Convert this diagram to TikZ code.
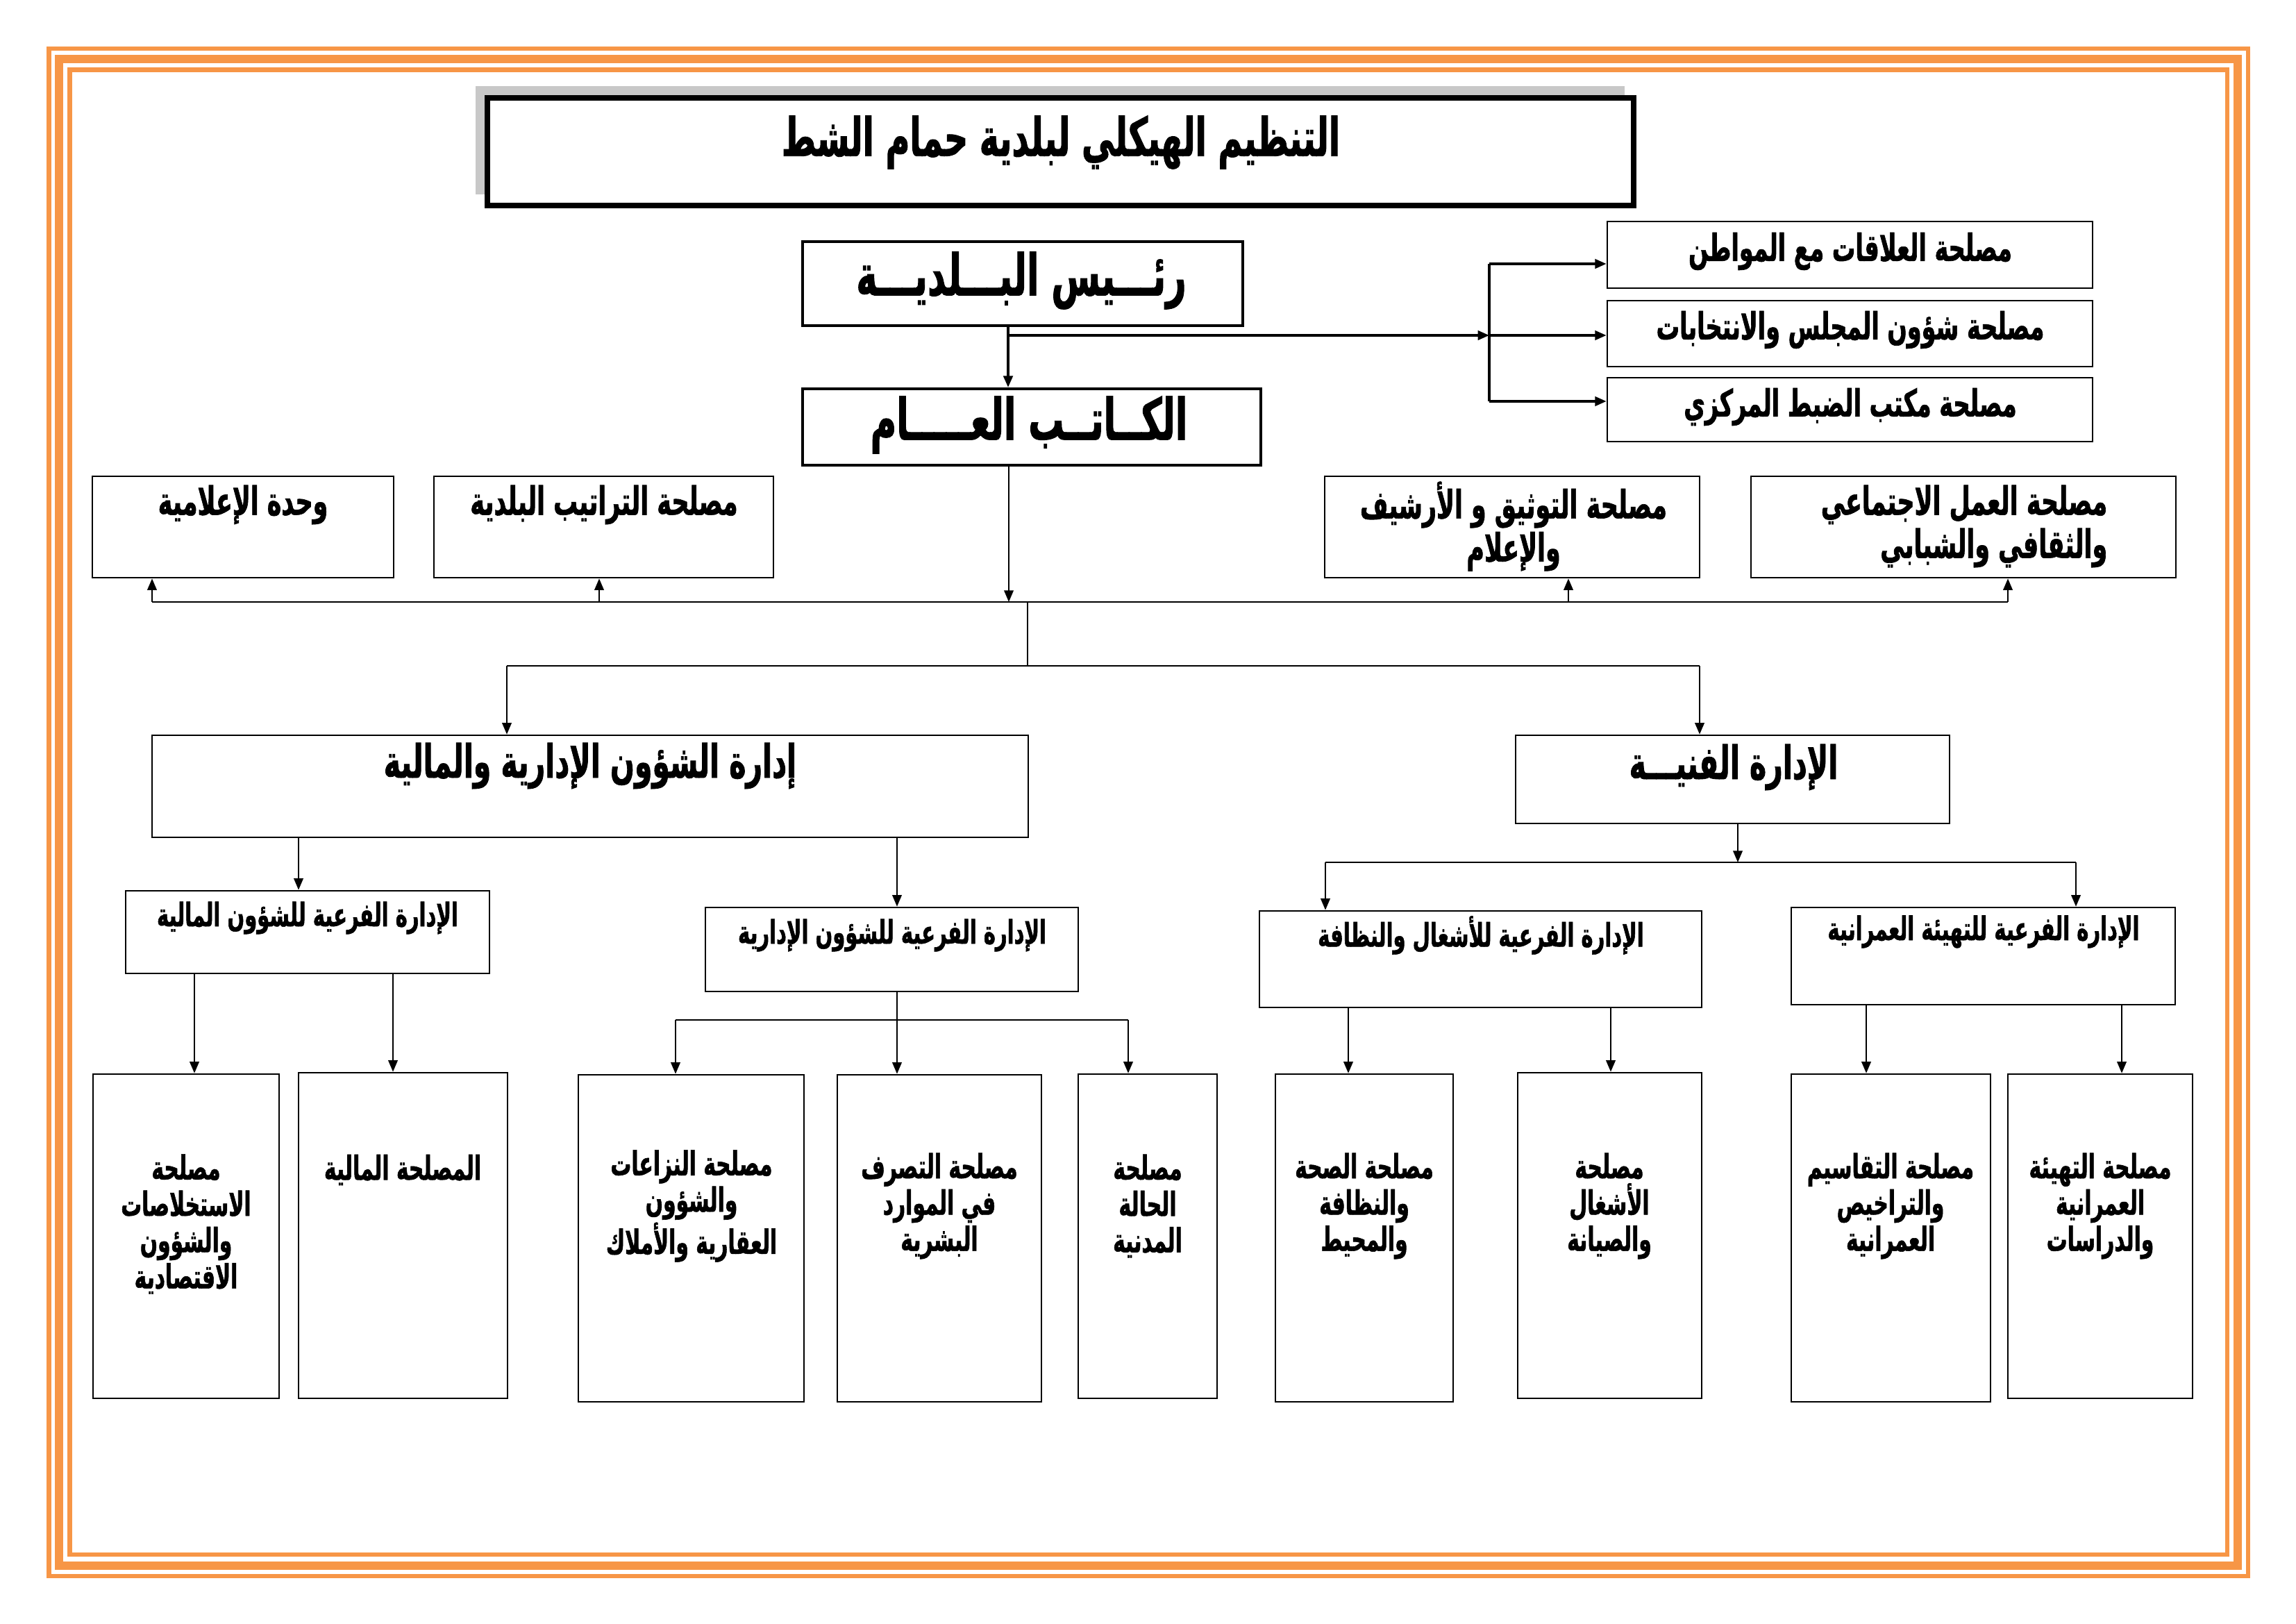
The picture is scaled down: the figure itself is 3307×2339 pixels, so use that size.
\documentclass[tikz,border=0pt]{standalone}
\usepackage{fontspec}
\usetikzlibrary{arrows.meta,fit}
\TeXXeTstate=1
\newfontfamily\arabicfont[Script=Arabic,FakeStretch=0.62,FakeBold=1.2]{DejaVu Sans}
\newcommand{\AR}[1]{{\arabicfont\bfseries\beginR #1\endR}}
\definecolor{frameorange}{HTML}{F79646}
\definecolor{shadowgray}{HTML}{C8C8C8}
\tikzset{
  box/.style={draw=black, line width=0.65pt, inner sep=0pt, fill=white},
  bigbox/.style={box, line width=1.05pt},
  titlebox/.style={box, line width=2.2pt},
  shadebox/.style={fill=shadowgray, inner sep=0pt},
  lbl/.style={align=center, inner sep=0pt},
  conn/.style={line width=0.6pt},
  thickconn/.style={line width=0.9pt},
  arr/.style={-{Triangle[length=4.2pt,width=3.4pt]}},
  fr/.style={draw=frameorange}
}
\begin{document}
\begin{tikzpicture}[x=0.2545pt,y=-0.2545pt]
\useasboundingbox (0,0) rectangle (3307,2339);
% frame
\draw[fr, line width=1.55pt] (70.5,70) rectangle (3238,2270);
\draw[fr, line width=3.05pt] (85,85) rectangle (3223,2255);
\draw[fr, line width=1.55pt] (100.5,100.5) rectangle (3208,2239);
% title
\node[shadebox, fit={(685,124) (2340,280)}] (tshadow) {};
\node[titlebox, fit={(702,141) (2353,296)}] (title) {};
\node[lbl, font=\fontsize{19.5}{24}\selectfont] (ttitle) at (1528,205) {\AR{التنظيم الهيكلي لبلدية حمام الشط}};
% president and secretary
\node[bigbox, fit={(1156,348) (1790,469)}] (pres) {};
\node[lbl, font=\fontsize{21}{24}\selectfont] (tpres) at (1471,404) {\AR{رئـــيس البـــلديـــة}};
\node[bigbox, fit={(1156,560) (1816,670)}] (sec) {};
\node[lbl, font=\fontsize{21}{24}\selectfont] (tsec) at (1482,612) {\AR{الكــاتــب العـــــام}};
% right services
\tikzset{rtxt/.style={lbl, font=\fontsize{13.7}{16}\selectfont}}
\node[box, fit={(2315,319) (3014,415)}] (r1) {};
\node[rtxt] (tr1) at (2665,362) {\AR{مصلحة العلاقات مع المواطن}};
\node[box, fit={(2315,433) (3014,528)}] (r2) {};
\node[rtxt] (tr2) at (2665,475) {\AR{مصلحة شؤون المجلس والانتخابات}};
\node[box, fit={(2315,544) (3014,636)}] (r3) {};
\node[rtxt] (tr3) at (2665,586) {\AR{مصلحة مكتب الضبط المركزي}};
% middle row
\tikzset{mtxt/.style={lbl, font=\fontsize{14.3}{15.8}\selectfont}}
\node[box, fit={(133,686) (567,832)}] (m1) {};
\node[mtxt] (tm1) at (350,727) {\AR{وحدة الإعلامية}};
\node[box, fit={(625,686) (1114,832)}] (m2) {};
\node[mtxt] (tm2) at (870,727) {\AR{مصلحة التراتيب البلدية}};
\node[box, fit={(1908,686) (2448,832)}] (m3) {};
\node[mtxt] (tm3) at (2180,758) {\AR{مصلحة التوثيق و الأرشيف}\\\AR{والإعلام}};
\node[box, fit={(2522,686) (3134,832)}] (m4) {};
\node[mtxt, align=right, anchor=east] (tm4) at (3036,758) {\AR{مصلحة العمل الاجتماعي}\\\AR{والثقافي والشبابي}};
% departments
\node[box, fit={(219,1059) (1481,1206)}] (d1) {};
\node[lbl, font=\fontsize{16.8}{19}\selectfont] (td1) at (850,1103) {\AR{إدارة الشؤون الإدارية والمالية}};
\node[box, fit={(2183,1059) (2808,1186)}] (d2) {};
\node[lbl, font=\fontsize{16.8}{19}\selectfont] (td2) at (2497,1105) {\AR{الإدارة الفنيـــة}};
% sub-departments
\tikzset{stxt/.style={lbl, font=\fontsize{11.9}{14}\selectfont}}
\node[box, fit={(181,1283) (705,1402)}] (s1) {};
\node[stxt] (ts1) at (443,1322) {\AR{الإدارة الفرعية للشؤون المالية}};
\node[box, fit={(1016,1307) (1553,1428)}] (s2) {};
\node[stxt] (ts2) at (1285,1347) {\AR{الإدارة الفرعية للشؤون الإدارية}};
\node[box, fit={(1814,1312) (2451,1451)}] (s3) {};
\node[stxt] (ts3) at (2133,1347) {\AR{الإدارة الفرعية للأشغال والنظافة}};
\node[box, fit={(2580,1307) (3133,1447)}] (s4) {};
\node[stxt] (ts4) at (2857,1342) {\AR{الإدارة الفرعية للتهيئة العمرانية}};
% bottom services
\tikzset{btxt/.style={lbl, font=\fontsize{12.2}{13.3}\selectfont}}
\node[box, fit={(134,1547) (402,2014)}] (b1) {};
\node[btxt] (tb1) at (268,1763) {\AR{مصلحة}\\\AR{الاستخلاصات}\\\AR{والشؤون}\\\AR{الاقتصادية}};
\node[box, fit={(430,1545) (731,2014)}] (b2) {};
\node[btxt] (tb2) at (580,1685) {\AR{المصلحة المالية}};
\node[box, fit={(833,1548) (1158,2019)}] (b3) {};
\node[btxt] (tb3) at (996,1737) {\AR{مصلحة النزاعات}\\\AR{والشؤون}\\\AR{العقارية والأملاك}};
\node[box, fit={(1206,1548) (1500,2019)}] (b4) {};
\node[btxt] (tb4) at (1353,1737) {\AR{مصلحة التصرف}\\\AR{في الموارد}\\\AR{البشرية}};
\node[box, fit={(1553,1547) (1753,2014)}] (b5) {};
\node[btxt] (tb5) at (1653,1737) {\AR{مصلحة}\\\AR{الحالة}\\\AR{المدنية}};
\node[box, fit={(1837,1547) (2093,2019)}] (b6) {};
\node[btxt] (tb6) at (1965,1737) {\AR{مصلحة الصحة}\\\AR{والنظافة}\\\AR{والمحيط}};
\node[box, fit={(2186,1545) (2451,2014)}] (b7) {};
\node[btxt] (tb7) at (2318,1737) {\AR{مصلحة}\\\AR{الأشغال}\\\AR{والصيانة}};
\node[box, fit={(2580,1547) (2867,2019)}] (b8) {};
\node[btxt] (tb8) at (2723,1737) {\AR{مصلحة التقاسيم}\\\AR{والتراخيص}\\\AR{العمرانية}};
\node[box, fit={(2892,1547) (3158,2014)}] (b9) {};
\node[btxt] (tb9) at (3025,1737) {\AR{مصلحة التهيئة}\\\AR{العمرانية}\\\AR{والدراسات}};
% ---- connectors ----
\coordinate (pv) at (1452,469);
\draw[thickconn, arr] (pv) -- (pv |- sec.north);
\coordinate (jb) at (2145,483);
\coordinate (jb1) at (2145,380);
\coordinate (jb3) at (2145,578);
\draw[thickconn, arr] (pv |- jb) -- (jb);
\draw[thickconn] (jb1) -- (jb3);
\draw[thickconn, arr] (jb1) -- (jb1 -| r1.west);
\draw[thickconn, arr] (jb) -- (jb -| r2.west);
\draw[thickconn, arr] (jb3) -- (jb3 -| r3.west);
% secretary to middle row
\coordinate (sv) at (1453,670);
\coordinate (hc) at (1453,867);
\coordinate (hl) at (219,867);
\coordinate (hr) at (2892,867);
\draw[conn, arr] (sv) -- (hc);
\draw[conn] (hl) -- (hr);
\draw[conn, arr] (hl) -- (hl |- m1.south);
\coordinate (h2) at (863,867);
\draw[conn, arr] (h2) -- (h2 |- m2.south);
\coordinate (h3) at (2259,867);
\draw[conn, arr] (h3) -- (h3 |- m3.south);
\draw[conn, arr] (hr) -- (hr |- m4.south);
\coordinate (dv) at (1480,867);
\coordinate (dvb) at (1480,959);
\coordinate (dl) at (730,959);
\coordinate (dr) at (2448,959);
\draw[conn] (dv) -- (dvb);
\draw[conn] (dl) -- (dr);
\draw[conn, arr] (dl) -- (dl |- d1.north);
\draw[conn, arr] (dr) -- (dr |- d2.north);
% admin-finance department
\coordinate (a1) at (430,1206);
\coordinate (a2) at (1292,1206);
\draw[conn, arr] (a1) -- (a1 |- s1.north);
\draw[conn, arr] (a2) -- (a2 |- s2.north);
\coordinate (f1) at (280,1402);
\coordinate (f2) at (566,1402);
\draw[conn, arr] (f1) -- (f1 |- b1.north);
\draw[conn, arr] (f2) -- (f2 |- b2.north);
\coordinate (g0) at (1292,1428);
\coordinate (gc) at (1292,1469);
\coordinate (gl) at (973,1469);
\coordinate (gr) at (1625,1469);
\draw[conn] (g0) -- (gc);
\draw[conn] (gl) -- (gr);
\draw[conn, arr] (gl) -- (gl |- b3.north);
\draw[conn, arr] (gc) -- (gc |- b4.north);
\draw[conn, arr] (gr) -- (gr |- b5.north);
% technical department
\coordinate (tv) at (2503,1186);
\coordinate (tc) at (2503,1242);
\coordinate (tl) at (1909,1242);
\coordinate (tr) at (2990,1242);
\draw[conn, arr] (tv) -- (tc);
\draw[conn] (tl) -- (tr);
\draw[conn, arr] (tl) -- (tl |- s3.north);
\draw[conn, arr] (tr) -- (tr |- s4.north);
\coordinate (w1) at (1942,1451);
\coordinate (w2) at (2320,1451);
\draw[conn, arr] (w1) -- (w1 |- b6.north);
\draw[conn, arr] (w2) -- (w2 |- b7.north);
\coordinate (u1) at (2688,1447);
\coordinate (u2) at (3056,1447);
\draw[conn, arr] (u1) -- (u1 |- b8.north);
\draw[conn, arr] (u2) -- (u2 |- b9.north);
\end{tikzpicture}
\end{document}
